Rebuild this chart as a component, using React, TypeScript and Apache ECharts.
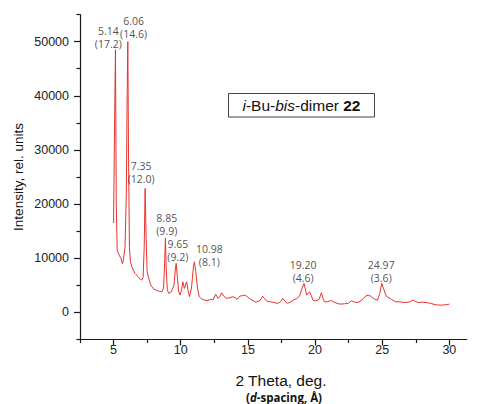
import React, { useEffect, useRef } from "react";
import * as echarts from "echarts";

// Diffractogram trace: [2θ (deg), intensity (rel. units)]
const trace: [number, number][] = [
  [5.0, 16500], [5.08, 36000], [5.14, 48500], [5.2, 20000], [5.27, 11500], [5.35, 11000],
  [5.45, 10400], [5.55, 10000], [5.65, 9000], [5.72, 9500], [5.85, 12000], [5.95, 22000],
  [6.01, 40000], [6.06, 50000], [6.11, 30000], [6.18, 12000], [6.25, 9500], [6.35, 8500],
  [6.47, 7800], [6.6, 7200], [6.72, 6900], [6.85, 6500], [7.0, 6100], [7.1, 5970],
  [7.2, 6500], [7.28, 12000], [7.35, 22900], [7.42, 14000], [7.5, 7500], [7.6, 6500],
  [7.75, 5200], [7.85, 4730], [8.0, 4300], [8.2, 4100], [8.4, 3900], [8.6, 3800],
  [8.72, 4500], [8.8, 9000], [8.86, 13700], [8.92, 8000], [9.0, 4200], [9.1, 3500],
  [9.3, 3800], [9.5, 5000], [9.6, 8000], [9.66, 9050], [9.75, 6500], [9.85, 3800],
  [9.95, 3200], [10.08, 4300], [10.15, 5650], [10.28, 4430], [10.4, 5500], [10.45, 5650],
  [10.55, 4000], [10.65, 2900], [10.8, 4500], [10.95, 8500], [11.02, 9350], [11.12, 7500],
  [11.25, 4500], [11.38, 2900], [11.55, 2500], [11.75, 2270], [12.0, 2200], [12.2, 2400],
  [12.4, 2300], [12.6, 3380], [12.78, 2600], [12.9, 2900], [13.05, 3620], [13.2, 3000],
  [13.4, 2590], [13.6, 2700], [13.9, 2900], [14.05, 2700], [14.2, 2400], [14.4, 3000],
  [14.6, 3100], [14.8, 3200], [14.95, 2900], [15.1, 2600], [15.3, 2270], [15.6, 1900],
  [15.9, 2200], [16.1, 3000], [16.25, 2500], [16.4, 2100], [16.7, 1950], [17.0, 1800],
  [17.2, 1650], [17.45, 2000], [17.6, 2600], [17.75, 2100], [17.95, 1660], [18.2, 1950],
  [18.4, 2300], [18.6, 2500], [18.85, 3000], [19.0, 4200], [19.18, 5350], [19.28, 4300],
  [19.38, 3200], [19.5, 3600], [19.6, 3800], [19.72, 3100], [19.85, 2270], [20.0, 2100],
  [20.3, 2400], [20.47, 3620], [20.6, 2600], [20.7, 1960], [20.9, 1950], [21.2, 2200],
  [21.5, 1800], [21.85, 1530], [22.2, 1600], [22.5, 1700], [22.7, 2150], [22.95, 1900],
  [23.2, 1830], [23.5, 2300], [23.75, 3000], [24.0, 3200], [24.2, 2900], [24.45, 2400],
  [24.65, 2270], [24.82, 3500], [24.97, 5350], [25.1, 4400], [25.3, 3000], [25.5, 2700],
  [25.7, 2400], [26.0, 1960], [26.3, 1950], [26.7, 1830], [27.0, 1900], [27.3, 2270],
  [27.5, 2000], [27.7, 1830], [28.0, 1900], [28.4, 1780], [28.7, 1600], [29.0, 1400],
  [29.3, 1350], [29.5, 1350], [29.8, 1450], [30.0, 1530],
];

// Peak annotations
const peakTheta = [5.14, 6.06, 7.35, 8.85, 9.65, 10.98, 19.2, 24.97];
const peakD = [17.2, 14.6, 12.0, 9.9, 9.2, 8.1, 4.6, 3.6];
// where each annotation is centred, in data units
const labelAnchorX = [4.61, 6.49, 7.06, 8.96, 9.78, 12.13, 19.12, 24.93];
const labelAnchorY = [50740, 52620, 25780, 16320, 11510, 10530, 7630, 7630];

// Axis ticks
const xMajor = [5, 10, 15, 20, 25, 30];
const xMinor = [2.5, 7.5, 12.5, 17.5, 22.5, 27.5];
const yMajor = [0, 10000, 20000, 30000, 40000, 50000];
const yMinor = [-5000, 5000, 15000, 25000, 35000, 45000, 55000];

const X_MIN = 2.5;
const X_MAX = 31.3;
const Y_MIN = -5000;
const Y_MAX = 55000;

const AXIS_COLOR = "#1a1a1a";
const SANS = "'Liberation Sans', Arial, sans-serif";
const LABEL_FONT = "'Open Sans', 'Noto Sans', sans-serif";

export default function App() {
  const ref = useRef<HTMLDivElement>(null);

  useEffect(() => {
    if (!ref.current) return;
    const chart = echarts.init(ref.current, null, { renderer: "svg" });

    const grid = { left: 80, top: 14.5, width: 386.8, height: 325, outerBoundsMode: "none" };

    const baseX = {
      type: "value",
      min: X_MIN,
      max: X_MAX,
      position: "bottom",
      offset: 0,
      splitLine: { show: false },
    };
    const baseY = {
      type: "value",
      min: Y_MIN,
      max: Y_MAX,
      position: "left",
      offset: 0,
      splitLine: { show: false },
    };

    const labelData = peakTheta.map((t, i) => ({
      value: [labelAnchorX[i], labelAnchorY[i]],
      name: `${t.toFixed(2)}\n(${peakD[i].toFixed(1)})`,
    }));

    const option: any = {
      animation: false,
      backgroundColor: "#ffffff",
      grid,
      xAxis: [
        {
          ...baseX,
          axisLine: { show: true, onZero: false, lineStyle: { color: AXIS_COLOR, width: 1.2 } },
          axisTick: { show: true, inside: false, length: 6, customValues: xMajor, lineStyle: { color: AXIS_COLOR, width: 1.2 } },
          axisLabel: {
            show: true, customValues: xMajor, margin: 4, color: "#222", fontSize: 12.5, fontFamily: SANS,
            formatter: (v: number) => String(v),
          },
        },
        {
          ...baseX,
          axisLine: { show: false, onZero: false },
          axisTick: { show: true, inside: false, length: 3.5, customValues: xMinor, lineStyle: { color: AXIS_COLOR, width: 1.2 } },
          axisLabel: { show: false },
        },
      ],
      yAxis: [
        {
          ...baseY,
          axisLine: { show: true, onZero: false, lineStyle: { color: AXIS_COLOR, width: 1.2 } },
          axisTick: { show: true, inside: false, length: 6, customValues: yMajor, lineStyle: { color: AXIS_COLOR, width: 1.2 } },
          axisLabel: {
            show: true, customValues: yMajor, margin: 11, color: "#222", fontSize: 12.5, fontFamily: SANS,
            formatter: (v: number) => String(v),
          },
        },
        {
          ...baseY,
          axisLine: { show: false, onZero: false },
          axisTick: { show: true, inside: false, length: 3.5, customValues: yMinor, lineStyle: { color: AXIS_COLOR, width: 1.2 } },
          axisLabel: { show: false },
        },
      ],
      series: [
        {
          type: "line",
          xAxisIndex: 0,
          yAxisIndex: 0,
          data: trace,
          showSymbol: false,
          symbol: "none",
          lineStyle: { color: "#e8332e", width: 1 },
          silent: true,
          z: 3,
        },
        {
          type: "scatter",
          xAxisIndex: 0,
          yAxisIndex: 0,
          data: labelData,
          symbolSize: 0,
          silent: true,
          z: 4,
          label: {
            show: true,
            position: "inside",
            formatter: (p: any) => p.name,
            color: "#222",
            fontSize: 10.5,
            lineHeight: 13,
            fontFamily: LABEL_FONT,
            align: "center",
            verticalAlign: "middle",
          },
        },
      ],
      graphic: [
        {
          type: "rect",
          shape: { x: 228.5, y: 93.5, width: 146, height: 23.5 },
          style: { fill: "#ffffff", stroke: "#444", lineWidth: 1 },
          z: 10,
        },
        {
          type: "text",
          x: 301.5,
          y: 105.5,
          z: 11,
          style: {
            text: "{it|i}{n|-Bu-}{it|bis}{n|-dimer }{b|22}",
            align: "center",
            verticalAlign: "middle",
            fill: "#111",
            fontSize: 15.5,
            fontFamily: SANS,
            rich: {
              it: { fontStyle: "italic", fontSize: 15.5, fontFamily: SANS, fill: "#111" },
              n: { fontSize: 15.5, fontFamily: SANS, fill: "#111" },
              b: { fontWeight: "bold", fontSize: 15.5, fontFamily: SANS, fill: "#111" },
            },
          },
        },
        {
          type: "text",
          x: 18,
          y: 177,
          rotation: Math.PI / 2,
          style: {
            text: "Intensity, rel. units",
            align: "center",
            verticalAlign: "middle",
            fill: "#111",
            fontSize: 13.5,
            fontFamily: SANS,
          },
        },
        {
          type: "text",
          x: 281,
          y: 380,
          style: {
            text: "2 Theta, deg.",
            align: "center",
            verticalAlign: "middle",
            fill: "#111",
            fontSize: 15.5,
            fontFamily: SANS,
          },
        },
        {
          type: "text",
          x: 284,
          y: 397,
          style: {
            text: "{b|(}{bi|d}{b|-spacing, Å)}",
            align: "center",
            verticalAlign: "middle",
            fill: "#111",
            fontSize: 11.5,
            fontWeight: "bold",
            fontFamily: LABEL_FONT,
            rich: {
              b: { fontWeight: "bold", fontSize: 11.5, fontFamily: LABEL_FONT, fill: "#111" },
              bi: { fontWeight: "bold", fontStyle: "italic", fontSize: 11.5, fontFamily: LABEL_FONT, fill: "#111" },
            },
          },
        },
      ],
    };

    chart.setOption(option);
    return () => chart.dispose();
  }, []);

  return (
    <div
      ref={ref}
      style={{ position: "fixed", left: 0, top: 0, width: 481, height: 404, background: "#fff" }}
    />
  );
}
